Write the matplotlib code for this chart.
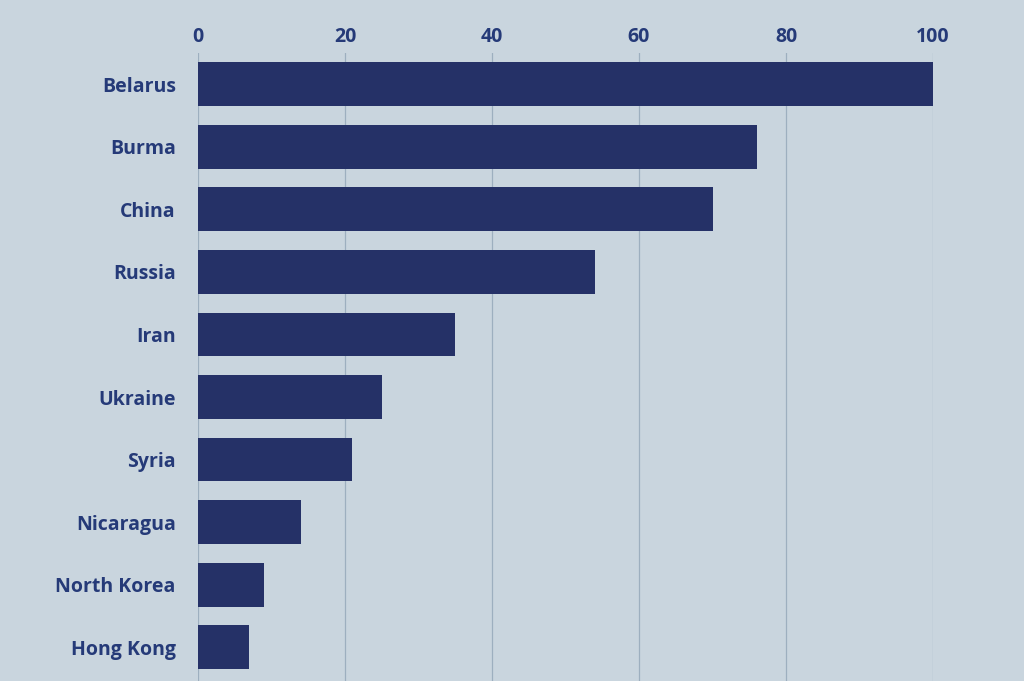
import matplotlib
matplotlib.use('Agg')
import matplotlib.pyplot as plt

countries = ['Belarus', 'Burma', 'China', 'Russia', 'Iran', 'Ukraine',
             'Syria', 'Nicaragua', 'North Korea', 'Hong Kong']
values = [100, 76, 70, 54, 35, 25, 21, 14, 9, 7]
xticks = [0, 20, 40, 60, 80, 100]

bg = '#c9d5de'
bar_color = '#253167'
text_color = '#253a78'
grid_color = '#9dafbf'

plt.rcParams['font.family'] = ['Open Sans', 'DejaVu Sans']

fig = plt.figure(figsize=(10.24, 6.81), dpi=100)
fig.patch.set_facecolor(bg)
ax = fig.add_axes([198 / 1024, 0, (933 - 198) / 1024, 1 - 53 / 681])
ax.set_facecolor(bg)

pos = list(range(len(countries)))
ax.barh(pos, values, height=0.70, color=bar_color, zorder=3)

ax.set_xlim(0, 100)
ax.set_ylim(9.54, -0.5)
ax.set_yticks(pos)
ax.set_yticklabels(countries)
ax.set_xticks(xticks)
ax.xaxis.tick_top()
ax.tick_params(axis='x', length=0, pad=4, labelsize=14, labelcolor=text_color)
ax.tick_params(axis='y', length=0, pad=16, labelsize=14, labelcolor=text_color)
for lbl in ax.get_xticklabels() + ax.get_yticklabels():
    lbl.set_fontweight('bold')

ax.grid(axis='x', color=grid_color, linewidth=0.9, zorder=0)
ax.grid(axis='y', visible=False)
for spine in ax.spines.values():
    spine.set_visible(False)

fig.savefig('out.png', dpi=100, facecolor=fig.get_facecolor())
